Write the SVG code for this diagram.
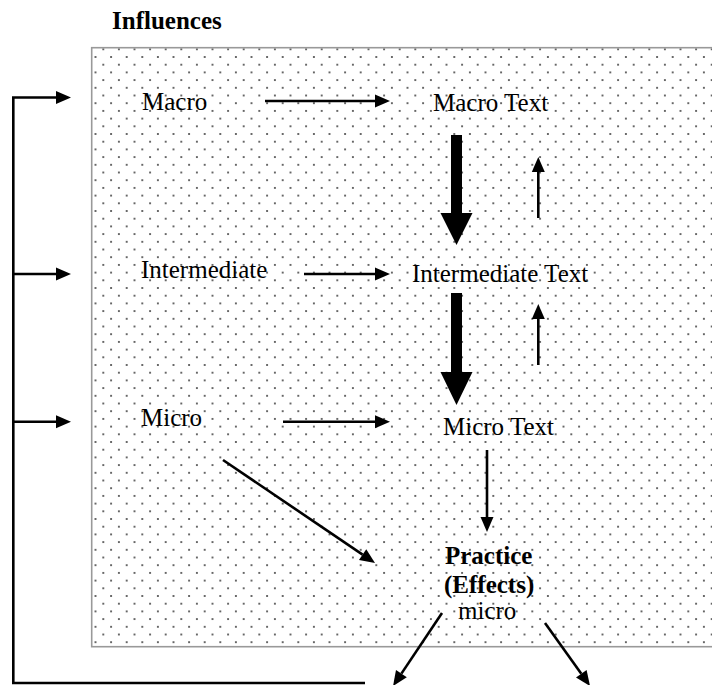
<svg xmlns="http://www.w3.org/2000/svg" width="712" height="685" viewBox="0 0 712 685">
<style>
  .t { font-family: "Liberation Serif", "Times New Roman", serif; font-size: 25px; fill: #000; }
  .b { font-weight: bold; }
  .ln { stroke: #000; stroke-width: 2.6; fill: none; }
  .thick { fill: #000; stroke: none; }
</style>
<defs>
  <pattern id="dots" patternUnits="userSpaceOnUse" x="103.3" y="49.3" width="15.6" height="15.4">
    <circle cx="0" cy="0" r="0.9" fill="#222"/>
    <circle cx="15.6" cy="0" r="0.9" fill="#222"/>
    <circle cx="0" cy="15.4" r="0.9" fill="#222"/>
    <circle cx="15.6" cy="15.4" r="0.9" fill="#222"/>
    <circle cx="7.8" cy="7.7" r="0.9" fill="#222"/>
  </pattern>
  <marker id="ah" markerUnits="userSpaceOnUse" markerWidth="16" markerHeight="14" refX="0" refY="6.5" orient="auto" overflow="visible">
    <path d="M0,0 L15,6.5 L0,13 Z" fill="#000"/>
  </marker>
</defs>
<rect width="712" height="685" fill="#fff"/>
<g id="panel">
  <rect x="91.7" y="47.7" width="640" height="599" fill="url(#dots)" stroke="#999" stroke-width="1.6"/>
</g>
<g id="title"><text class="t b" x="112" y="29">Influences</text></g>
<g id="macro"><text class="t" x="142" y="110">Macro</text></g>
<g id="macro-text"><text class="t" x="433" y="111">Macro Text</text></g>
<g id="intermediate"><text class="t" x="141" y="278">Intermediate</text></g>
<g id="intermediate-text"><text class="t" x="412" y="282">Intermediate Text</text></g>
<g id="micro"><text class="t" x="141" y="426">Micro</text></g>
<g id="micro-text"><text class="t" x="443" y="435">Micro Text</text></g>
<g id="practice">
  <text class="t b" x="445" y="564">Practice</text>
  <text class="t b" x="444" y="593">(Effects)</text>
  <text class="t" x="458" y="619">micro</text>
</g>
<g id="connectors">
  <polyline class="ln" points="365,683 13.3,683 13.3,97.5 56,97.5" marker-end="url(#ah)"/>
  <line class="ln" x1="13.3" y1="274" x2="56" y2="274" marker-end="url(#ah)"/>
  <line class="ln" x1="13.3" y1="421.7" x2="56" y2="421.7" marker-end="url(#ah)"/>
  <line class="ln" x1="265" y1="101" x2="375" y2="101" marker-end="url(#ah)"/>
  <line class="ln" x1="304" y1="274" x2="375" y2="274" marker-end="url(#ah)"/>
  <line class="ln" x1="283" y1="421.7" x2="375" y2="421.7" marker-end="url(#ah)"/>
  <polygon class="thick" points="451,135 462,135 462,213 472.5,213 456.5,245 440.5,213 451,213"/>
  <polygon class="thick" points="451,293 462,293 462,372 472.5,372 456.5,405 440.5,372 451,372"/>
  <line class="ln" x1="538.3" y1="218" x2="538.3" y2="172" marker-end="url(#ah)"/>
  <line class="ln" x1="538.3" y1="365" x2="538.3" y2="319" marker-end="url(#ah)"/>
  <line class="ln" x1="487" y1="450" x2="487" y2="517" marker-end="url(#ah)"/>
  <line class="ln" x1="223" y1="460" x2="362.6" y2="554.6" marker-end="url(#ah)"/>
  <line class="ln" x1="442" y1="613" x2="401.4" y2="673.6" marker-end="url(#ah)"/>
  <line class="ln" x1="545" y1="623" x2="581.3" y2="673.8" marker-end="url(#ah)"/>
</g>
</svg>
